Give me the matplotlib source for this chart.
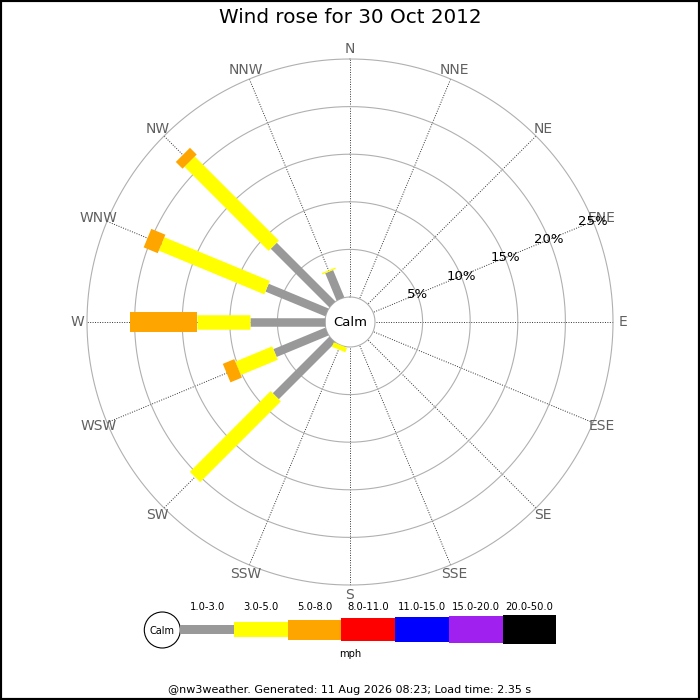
import numpy as np
from matplotlib import pyplot as plt
from matplotlib.patches import Circle, Rectangle

# wind directions, clockwise from north
directions = ["N", "NNE", "NE", "ENE", "E", "ESE", "SE", "SSE",
              "S", "SSW", "SW", "WSW", "W", "WNW", "NW", "NNW"]

speed_bins = ["1.0-3.0", "3.0-5.0", "5.0-8.0", "8.0-11.0",
              "11.0-15.0", "15.0-20.0", "20.0-50.0"]
bin_colors = ["#999999", "#ffff00", "#ffa500", "#ff0000",
              "#0000ff", "#a020f0", "#000000"]

# % of time per direction for each speed bin
pct_1_3 = [0, 0, 0, 0, 0, 0, 0, 0, 0, 0, 8.4, 5.9, 7.9, 6.8, 8.7, 3.1]
pct_3_5 = [0, 0, 0, 0, 0, 0, 0, 0, 0, 0.5, 12.0, 4.2, 5.5, 12.0, 12.5, 0.15]
pct_5_8 = [0, 0, 0, 0, 0, 0, 0, 0, 0, 0, 0, 1.3, 7.1, 1.6, 1.0, 0]
pct_8_11 = [0] * 16
pct_11_15 = [0] * 16
pct_15_20 = [0] * 16
pct_20_50 = [0] * 16
speed_pcts = [pct_1_3, pct_3_5, pct_5_8, pct_8_11, pct_11_15, pct_15_20, pct_20_50]

ring_pcts = [5, 10, 15, 20, 25]

title = "Wind rose for 30 Oct 2012"
footer = "@nw3weather. Generated: 11 Aug 2026 08:23; Load time: 2.35 s"
units = "mph"

# bar thickness per speed bin, in pixels (dpi 100)
bar_px = [8.5, 14.5, 20, 23, 25, 27, 29]
px2pt = 72 / 100

fig = plt.figure(figsize=(7, 7), dpi=100)

R_OUT = 263  # px
R_CALM = 25  # px
r_max = ring_pcts[-1]
r0 = r_max * R_CALM / (R_OUT - R_CALM)

cx, cy = 350, 700 - 322
ax = fig.add_axes([(cx - R_OUT) / 700, (cy - R_OUT) / 700, 2 * R_OUT / 700, 2 * R_OUT / 700],
                  projection="polar")
ax.set_theta_zero_location("N")
ax.set_theta_direction(-1)
ax.set_ylim(0, r_max)
ax.set_rorigin(-r0)
ax.set_axis_off()

th = np.linspace(0, 2 * np.pi, 721)
for r in [0] + ring_pcts:
    ax.plot(th, np.full_like(th, r), color="#b0b0b0", lw=0.8, zorder=2, clip_on=False)

thetas = np.deg2rad(np.arange(len(directions)) * 22.5)
for t, d in zip(thetas, directions):
    ax.plot([t, t], [0.1, r_max], color="#333333", lw=0.7, ls=(0, (1, 1.5)), zorder=1, clip_on=False)
    ax.text(t, r_max + 1.0, d, ha="center", va="center", fontsize=10, color="#606060")

for r in ring_pcts:
    ax.text(np.deg2rad(67.5), r, f"{r}%", ha="center", va="center", fontsize=9.5, color="black", zorder=5)

# stacked bars
for i, t in enumerate(thetas):
    base = 0
    for b, vals in enumerate(speed_pcts):
        v = vals[i]
        if v > 0:
            ax.plot([t, t], [base, base + v], color=bin_colors[b], lw=bar_px[b] * px2pt,
                    solid_capstyle="butt", zorder=3 + b, clip_on=False)
            base += v

ax.text(0.5, 0.5, "Calm", transform=ax.transAxes, ha="center", va="center", fontsize=9.5, zorder=12)

fig.text(0.5, 1 - 17.5 / 700, title, ha="center", va="center", fontsize=14.3)

# legend, drawn in pixel coords
lg = fig.add_axes([0, 0, 1, 1], zorder=-1)
lg.set_xlim(0, 700)
lg.set_ylim(700, 0)
lg.axis("off")
lg.add_patch(Circle((162.3, 630), 18, facecolor="white", edgecolor="black", lw=0.8))
lg.text(162.3, 630.5, "Calm", ha="center", va="center", fontsize=7)
x0, seg = 180.3, 53.7
for b, (lab, col) in enumerate(zip(speed_bins, bin_colors)):
    h = bar_px[b]
    lg.add_patch(Rectangle((x0 + b * seg, 629.5 - h / 2), seg, h, facecolor=col, edgecolor="none"))
    lg.text(x0 + (b + 0.5) * seg, 607, lab, ha="center", va="center", fontsize=7.2)
lg.text(350.7, 654, units, ha="center", va="center", fontsize=7.2)

fig.text(0.5, 1 - 690 / 700, footer, ha="center", va="center", fontsize=8)

fig.patches.append(Rectangle((0, 0), 1, 1, transform=fig.transFigure, fill=False,
                             lw=3, edgecolor="black"))

fig.savefig("out.png", dpi=100)
